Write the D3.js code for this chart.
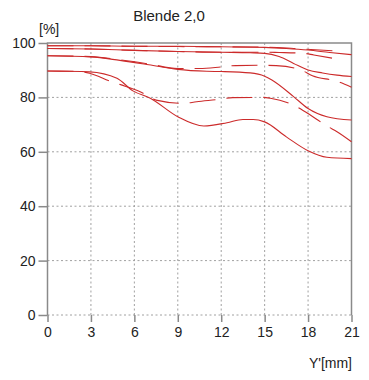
<!DOCTYPE html>
<html lang="en">
<head>
    <meta charset="UTF-8">
    <title>Blende 2,0</title>
    <script src="https://d3js.org/d3.v7.min.js"></script>
    <style>
        body { margin: 0; background: #fff; }
        text { font-family: "Liberation Sans", Arial, sans-serif; fill: #222; }
    </style>
</head>
<body>
    <div id="chart"></div>
    <script>
        const xTicks = [0, 3, 6, 9, 12, 15, 18, 21];
        const yTicks = [0, 20, 40, 60, 80, 100];

        // solid curves (sagittal)
        const sag1 = [[0,99],[3,99],[6,98.8],[9,98.8],[12,98.6],[15,98.4],[16.5,98],[18,97.4],[19.5,96.5],[21,95.7]];
        const sag2 = [[0,98],[3,97.8],[6,97.3],[9,96.9],[12,96.6],[14,96.4],[15,96.2],[16,95],[17,92.5],[18,90.1],[19,89],[20,88.2],[21,87.7]];
        const sag3 = [[0,95.3],[3,94.9],[5,93.6],[7,92],[9,90.3],[11,89.6],[12,89.5],[14,89],[15,87.8],[15.5,86.4],[17,80.3],[18,75.9],[19.3,72.9],[21,71.7]];
        const sag4 = [[0,89.7],[2.9,89.4],[4.8,87],[5.9,82.4],[7.1,79.7],[9,72.9],[10.8,69.5],[12.4,70.7],[13.5,71.9],[14.2,71.9],[15,71],[16.5,65.5],[18,60.4],[19.3,58],[21,57.5]];

        // dashed curves (tangential)
        const tan1 = [[0,99],[3,99],[6,98.8],[9,98.7],[12,98.6],[15,98.5],[17,98],[18.5,97.5],[20.3,97]];
        const tan2 = [[0,98],[3,97.8],[6,97.3],[9,96.9],[12,96.6],[15,96.6],[16,96.5],[17.7,96.2],[18.4,95.6],[20.3,93.8]];
        const tan3 = [[0,95.3],[3,95],[5,93.8],[7,92.3],[9,90.6],[10.5,90.6],[12,91.2],[13,91.7],[15,91.8],[15.8,91.7],[17.5,90.1],[18.3,88],[20,85.9],[21,83.7]];
        const tan4 = [[0,89.7],[2,89.6],[2.9,88.9],[4.4,85.8],[5.1,84.6],[6.4,82.1],[7.5,79],[9.4,77.8],[10.3,78.4],[11.9,79.3],[12.8,79.9],[14.9,80],[15.4,79.7],[17.2,76.6],[17.8,74.7],[19.4,69.2],[20,67.4],[21,63.7]];

        const width = 369, height = 380;
        const plotLeft = 47.5, plotRight = 351.5, plotTop = 43, plotBottom = 315;
        const lineColor = "#cc2b2b";
        const axisColor = "#8a8a8a";

        const svg = d3.select("#chart")
            .append("svg")
            .attr("width", width)
            .attr("height", height);

        const x = d3.scaleLinear().domain([0, 21]).range([plotLeft, plotRight]);
        const y = d3.scaleLinear().domain([0, 100]).range([plotBottom, plotTop]);

        // dotted grid
        svg.append("g")
            .selectAll("line")
            .data(xTicks.slice(1, -1))
            .enter()
            .append("line")
            .attr("x1", d => x(d))
            .attr("x2", d => x(d))
            .attr("y1", y(100))
            .attr("y2", y(0))
            .attr("stroke", "#a0a0a0")
            .attr("stroke-width", 1)
            .attr("stroke-dasharray", "2,2.5");

        svg.append("g")
            .selectAll("line")
            .data(yTicks.slice(0, -1))
            .enter()
            .append("line")
            .attr("x1", x(0))
            .attr("x2", x(21))
            .attr("y1", d => y(d))
            .attr("y2", d => y(d))
            .attr("stroke", "#a0a0a0")
            .attr("stroke-width", 1)
            .attr("stroke-dasharray", "2,2.5");

        // frame: left, top, right solid
        svg.append("path")
            .attr("d", `M${x(0)},${y(0)}V${y(100)}H${x(21)}V${y(0)}`)
            .attr("fill", "none")
            .attr("stroke", axisColor)
            .attr("stroke-width", 1.5);

        // axes
        const yAxis = svg.append("g")
            .attr("transform", `translate(${x(0)},0)`)
            .call(d3.axisLeft(y).tickValues(yTicks).tickSize(9).tickPadding(3));
        const xAxis = svg.append("g")
            .attr("transform", `translate(0,${y(0)})`)
            .call(d3.axisBottom(x).tickValues(xTicks).tickSize(7).tickPadding(5));

        [yAxis, xAxis].forEach(ax => {
            ax.select(".domain").remove();
            ax.selectAll(".tick line").attr("stroke", axisColor).attr("stroke-width", 1.5);
            ax.selectAll(".tick text")
                .attr("font-family", "'Liberation Sans', Arial, sans-serif")
                .attr("font-size", "14px")
                .attr("fill", "#222");
        });

        // curves
        const line = d3.line()
            .x(d => x(d[0]))
            .y(d => y(d[1]))
            .curve(d3.curveMonotoneX);

        const g = svg.append("g")
            .attr("fill", "none")
            .attr("stroke", lineColor)
            .attr("stroke-width", 1.1);

        [sag1, sag2, sag3, sag4].forEach(s => {
            g.append("path").attr("d", line(s));
        });
        [tan1, tan2, tan3, tan4].forEach(s => {
            g.append("path").attr("d", line(s)).attr("stroke-dasharray", "26,11");
        });

        // labels
        svg.append("text")
            .attr("x", 169)
            .attr("y", 21)
            .attr("text-anchor", "middle")
            .attr("font-size", "15px")
            .text("Blende 2,0");

        svg.append("text")
            .attr("x", 39)
            .attr("y", 34)
            .attr("font-size", "14px")
            .text("[%]");

        svg.append("text")
            .attr("x", 352)
            .attr("y", 368)
            .attr("text-anchor", "end")
            .attr("font-size", "14px")
            .text("Y'[mm]");
    </script>
</body>
</html>
